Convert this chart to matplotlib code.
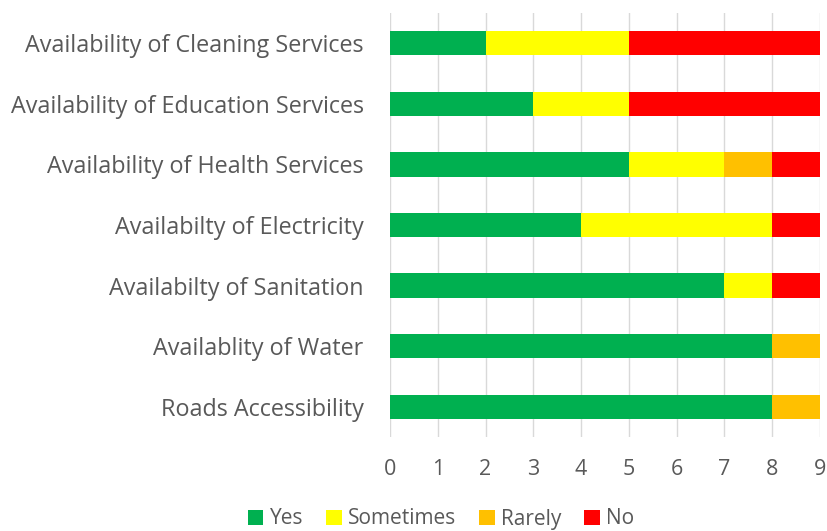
import matplotlib
matplotlib.use("Agg")
import matplotlib.pyplot as plt
import numpy as np

categories = ["Roads Accessibility", "Availablity of Water", "Availabilty of Sanitation",
              "Availabilty of Electricity", "Availability of Health Services",
              "Availability of Education Services", "Availability of Cleaning Services"]
series_names = ["Yes", "Sometimes", "Rarely", "No"]
yes = [8, 8, 7, 4, 5, 3, 2]
sometimes = [0, 0, 1, 4, 2, 2, 3]
rarely = [1, 1, 0, 0, 1, 0, 0]
no = [0, 0, 1, 1, 1, 4, 4]
colors = ["#00B050", "#FFFF00", "#FFC000", "#FF0000"]
xticks = list(range(0, 10))

plt.rcParams['font.family'] = ['Open Sans', 'DejaVu Sans']
fig = plt.figure(figsize=(8.27, 5.31), dpi=100)
ax = fig.add_axes([390/827, 1-437/531, 430/827, 424/531])

y = np.arange(len(categories))
left = np.zeros(len(categories))
for name, vals, c in zip(series_names, [yes, sometimes, rarely, no], colors):
    ax.barh(y, vals, left=left, height=0.4, color=c, label=name, zorder=3)
    left += np.array(vals)

ax.set_xlim(0, 9)
ax.set_ylim(-0.5, len(categories) - 0.5)
ax.set_yticks(y)
ax.set_yticklabels(categories)
ax.set_xticks(xticks)
ax.grid(axis='x', color='#D9D9D9', linewidth=1, zorder=0)
for s in ax.spines.values():
    s.set_visible(False)
ax.tick_params(axis='both', length=0, colors='#595959')
ax.tick_params(axis='y', pad=19, labelsize=16.85)
ax.tick_params(axis='x', pad=16, labelsize=15.5)

handles, labels = ax.get_legend_handles_labels()
fig.legend(handles, labels, loc='center', bbox_to_anchor=(441/827, 1-519/531), ncol=4,
           frameon=False, fontsize=15, handlelength=0.75, handleheight=0.75,
           handletextpad=0.3, columnspacing=1.1, labelcolor='#595959', borderaxespad=0)

fig.savefig("out.png", dpi=100)
